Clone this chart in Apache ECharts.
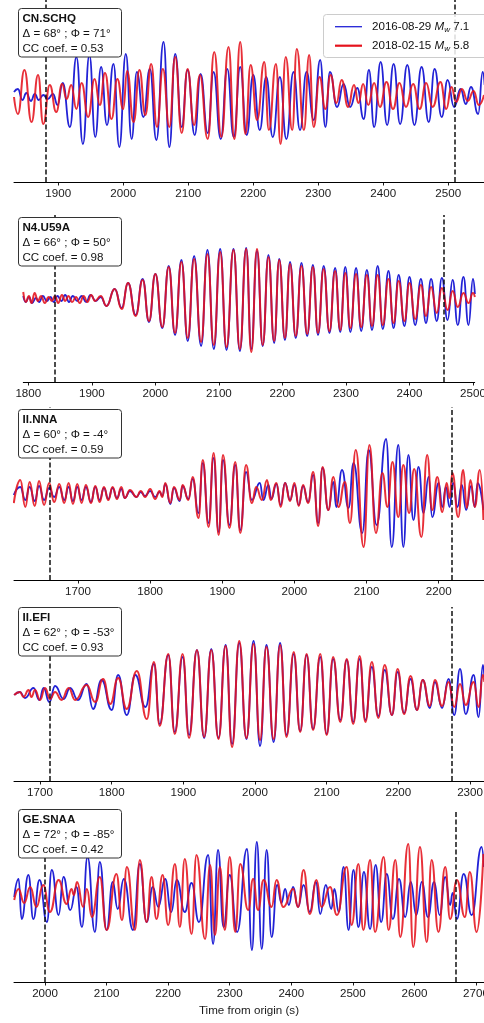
<!DOCTYPE html>
<html>
<head>
<meta charset="utf-8">
<script src="https://cdn.jsdelivr.net/npm/echarts@6/dist/echarts.min.js"></script>
<style>
  html, body { margin: 0; padding: 0; background: #fff; }
  #chart { width: 484px; height: 1023px; }
</style>
</head>
<body>
<div id="chart"></div>
<script>
// Waveform extrema per station: [time from origin (s), amplitude]
const schqBlue = [[1832,5],[1838,8],[1845,-3],[1851,4],[1858,-4],[1864,3],[1870,-3],[1877,2],[1884,-2],[1892,3],[1899,-8],[1907,14],[1918,-30],[1928,40],[1938,-47],[1948,42],[1957,-40],[1966,30],[1975,-28],[1985,33],[1994,-50],[2004,43],[2013,-42],[2021,25],[2031,-20],[2041,28],[2051,-43],[2062,55],[2071,-50],[2080,43],[2090,-30],[2099,27],[2110,-38],[2119,23],[2130,-36],[2139,25],[2150,-42],[2160,28],[2170,-40],[2180,30],[2190,-38],[2200,22],[2210,-33],[2220,20],[2230,-40],[2241,20],[2251,-42],[2262,25],[2272,-33],[2282,25],[2293,-23],[2303,37],[2311,-30],[2318,25],[2329,-10],[2339,13],[2349,-10],[2360,9],[2370,-22],[2378,27],[2386,-30],[2396,35],[2406,-28],[2416,33],[2426,-27],[2437,32],[2448,-28],[2459,30],[2470,-25],[2479,28],[2490,-20],[2499,17],[2509,-10],[2519,8],[2527,-7],[2535,10],[2546,-17],[2553,25],[2556,12]];
const schqRed = [[1832,0],[1838,-17],[1848,27],[1859,-25],[1869,22],[1877,-27],[1887,12],[1897,-15],[1906,13],[1913,-2],[1920,12],[1928,-12],[1936,14],[1946,-20],[1956,18],[1964,-8],[1972,24],[1982,-22],[1991,18],[2000,-12],[2006,26],[2016,-25],[2025,27],[2034,-18],[2043,33],[2052,-30],[2061,28],[2071,-30],[2080,40],[2090,-36],[2099,28],[2109,-28],[2118,22],[2130,-42],[2140,45],[2151,-40],[2162,50],[2171,-42],[2180,55],[2188,-37],[2196,32],[2206,-23],[2217,35],[2224,-33],[2235,33],[2242,-47],[2250,40],[2260,-33],[2267,48],[2278,-33],[2286,42],[2293,-30],[2302,20],[2311,-12],[2319,22],[2328,-6],[2336,17],[2346,-10],[2355,12],[2362,-6],[2369,13],[2377,-8],[2386,14],[2395,-10],[2405,15],[2415,-12],[2425,14],[2435,-10],[2446,13],[2456,-12],[2466,14],[2476,-10],[2488,15],[2497,-12],[2505,10],[2512,-5],[2521,8],[2530,-4],[2539,6],[2547,-8],[2555,2]];

const u59aBlue = [[1792,3],[1796,-3],[1801,2],[1806,-4],[1812,1],[1817,-3],[1823,3],[1829,-2],[1835,2],[1840,-3],[1846,3],[1852,-2],[1858,4],[1864,-3],[1870,3],[1877,-2],[1884,3],[1891,-3],[1898,4],[1906,-2],[1914,2],[1923,-7],[1936,10],[1947,-9],[1957,16],[1969,-16],[1980,20],[1990,-23],[2000,25],[2011,-29],[2021,33],[2031,-36],[2041,39],[2051,-42],[2061,43],[2072,-47],[2082,49],[2092,-50],[2102,50],[2112,-51],[2123,50],[2133,-52],[2143,51],[2151,-50],[2160,48],[2169,-47],[2178,44],[2187,-44],[2195,40],[2204,-41],[2212,37],[2221,-39],[2230,36],[2239,-37],[2248,34],[2256,-36],[2265,33],[2274,-34],[2283,31],[2291,-33],[2299,32],[2307,-33],[2316,31],[2324,-32],[2333,29],[2341,-31],[2350,33],[2358,-30],[2367,28],[2375,-29],[2383,24],[2392,-27],[2400,22],[2409,-26],[2418,20],[2426,-24],[2434,20],[2443,-22],[2451,21],[2460,-21],[2468,19],[2476,-26],[2485,22],[2493,-26],[2500,20],[2503,5]];
const u59aRed = [[1792,7],[1796,-3],[1801,3],[1805,-4],[1810,6],[1815,-2],[1820,3],[1826,-4],[1832,2],[1837,-2],[1842,3],[1847,-4],[1853,4],[1858,-2],[1863,3],[1869,-3],[1875,2],[1881,-4],[1887,3],[1893,-3],[1899,4],[1905,-2],[1914,3],[1923,-7],[1936,10],[1947,-10],[1957,16],[1969,-17],[1980,19],[1990,-22],[2000,25],[2011,-28],[2021,32],[2031,-34],[2041,37],[2051,-39],[2061,40],[2072,-43],[2082,45],[2092,-46],[2102,47],[2112,-48],[2123,49],[2133,-50],[2143,50],[2151,-53],[2160,50],[2169,-46],[2178,42],[2187,-42],[2195,39],[2204,-39],[2212,35],[2221,-37],[2230,33],[2239,-35],[2248,32],[2256,-34],[2265,30],[2274,-32],[2283,28],[2291,-31],[2299,26],[2307,-29],[2316,25],[2324,-28],[2333,24],[2341,-27],[2350,24],[2358,-26],[2367,20],[2375,-24],[2383,18],[2392,-22],[2400,16],[2409,-20],[2418,14],[2426,-17],[2434,12],[2443,-14],[2451,11],[2460,-11],[2468,8],[2476,-8],[2485,6],[2493,-4],[2500,6],[2503,2]];

const nnaBlue = [[1611,0],[1620,8],[1627,-5],[1633,8],[1640,-6],[1646,9],[1653,-5],[1660,7],[1667,-2],[1674,8],[1681,-5],[1687,8],[1693,-6],[1699,8],[1705,-5],[1711,8],[1718,-7],[1724,8],[1730,-5],[1736,7],[1742,-4],[1748,7],[1754,-3],[1760,6],[1765,-3],[1772,4],[1781,-2],[1787,3],[1793,-1],[1800,4],[1807,-2],[1813,3],[1817,-1],[1821,11],[1828,-9],[1833,7],[1841,-6],[1845,9],[1853,-4],[1859,16],[1867,-18],[1873,32],[1881,-28],[1888,37],[1895,-37],[1901,35],[1910,-30],[1918,30],[1925,-35],[1933,23],[1941,-5],[1952,12],[1957,-5],[1964,10],[1968,-4],[1975,11],[1981,-10],[1987,12],[1994,-5],[2000,10],[2006,-10],[2012,9],[2019,-7],[2026,20],[2033,-28],[2039,27],[2047,-15],[2054,13],[2058,-12],[2066,25],[2075,-13],[2082,32],[2094,-38],[2103,45],[2114,-30],[2127,56],[2135,-52],[2144,50],[2151,-52],[2158,40],[2165,-25],[2172,28],[2179,-18],[2186,18],[2191,-22],[2200,12],[2205,-12],[2210,8],[2215,-12],[2220,12],[2226,-12],[2232,10],[2238,-15],[2245,9],[2250,-12],[2254,12],[2262,-15]];
const nnaRed = [[1611,-8],[1620,15],[1627,-12],[1633,13],[1640,-11],[1646,14],[1653,-10],[1660,12],[1667,-7],[1674,11],[1681,-8],[1687,12],[1693,-9],[1699,11],[1705,-8],[1711,10],[1718,-8],[1724,9],[1730,-7],[1736,8],[1742,-5],[1748,8],[1754,-4],[1760,8],[1765,-3],[1772,5],[1781,-2],[1787,4],[1793,-2],[1800,6],[1807,-4],[1813,4],[1817,-2],[1821,12],[1828,-8],[1833,8],[1841,-5],[1845,10],[1853,-5],[1859,18],[1867,-23],[1873,35],[1881,-32],[1888,42],[1895,-40],[1901,40],[1910,-33],[1918,33],[1925,-38],[1933,30],[1941,-8],[1947,8],[1955,-5],[1962,15],[1967,-5],[1975,12],[1981,-12],[1987,12],[1994,-6],[2000,12],[2006,-11],[2012,10],[2019,-8],[2026,23],[2033,-31],[2039,28],[2047,-15],[2054,18],[2061,-12],[2070,13],[2077,-28],[2085,45],[2096,-52],[2104,50],[2113,-38],[2122,22],[2129,-12],[2136,33],[2144,-22],[2151,30],[2159,-18],[2166,26],[2176,-42],[2184,40],[2191,-15],[2198,18],[2205,-17],[2211,12],[2215,-3],[2219,22],[2227,-22],[2234,25],[2239,-13],[2244,15],[2250,-12],[2257,25],[2262,-25]];

const efiBlue = [[1664,2],[1672,5],[1679,-1],[1691,9],[1699,-3],[1705,9],[1713,-5],[1721,11],[1733,-2],[1742,9],[1753,-3],[1765,13],[1774,-12],[1786,17],[1800,-13],[1809,22],[1821,-18],[1833,22],[1847,-10],[1859,33],[1867,-27],[1879,42],[1888,-35],[1899,40],[1908,-38],[1919,47],[1929,-41],[1939,48],[1949,-41],[1959,52],[1968,-47],[1978,54],[1988,-42],[1998,56],[2007,-49],[2016,52],[2026,-45],[2035,54],[2044,-38],[2054,43],[2063,-34],[2072,42],[2081,-32],[2091,40],[2100,-37],[2109,38],[2119,-23],[2128,37],[2137,-25],[2146,38],[2154,-23],[2163,30],[2172,-19],[2181,27],[2191,-18],[2199,25],[2208,-16],[2217,18],[2226,-13],[2234,17],[2244,-11],[2251,15],[2261,-11],[2270,18],[2278,-18],[2286,28],[2294,-17],[2305,22],[2312,-20],[2318,32],[2320,20]];
const efiRed = [[1664,2],[1672,5],[1677,0],[1684,7],[1688,0],[1693,7],[1700,-3],[1707,9],[1714,-2],[1721,5],[1730,-3],[1740,9],[1749,-3],[1765,12],[1777,-5],[1788,18],[1798,-7],[1809,19],[1821,-12],[1835,26],[1849,-22],[1859,35],[1867,-29],[1879,43],[1888,-37],[1899,43],[1908,-41],[1919,47],[1929,-40],[1939,47],[1949,-42],[1959,51],[1968,-50],[1978,56],[1988,-41],[1998,53],[2007,-43],[2016,50],[2026,-42],[2035,52],[2044,-40],[2054,45],[2063,-35],[2072,43],[2081,-33],[2091,43],[2100,-38],[2109,40],[2119,-25],[2128,38],[2137,-27],[2146,41],[2154,-25],[2163,35],[2172,-21],[2181,32],[2191,-18],[2199,28],[2208,-17],[2217,21],[2226,-13],[2234,17],[2244,-9],[2251,17],[2261,-9],[2270,15],[2278,-10],[2286,13],[2294,-8],[2305,15],[2312,-10],[2318,22],[2320,15]];

const snaaBlue = [[1950,0],[1957,18],[1962,-22],[1973,22],[1981,-22],[1991,17],[2003,-25],[2011,27],[2022,-18],[2030,20],[2041,-13],[2051,10],[2060,-30],[2069,40],[2081,-35],[2089,35],[2100,-33],[2110,15],[2118,-12],[2128,18],[2143,-33],[2154,33],[2165,-25],[2175,10],[2184,-10],[2195,18],[2205,-15],[2214,17],[2227,-15],[2238,14],[2250,-25],[2265,42],[2273,-47],[2281,47],[2290,-30],[2300,22],[2312,-35],[2328,48],[2336,-53],[2344,55],[2352,-52],[2360,47],[2368,-40],[2377,12],[2384,-6],[2390,8],[2396,-8],[2403,10],[2411,-10],[2420,12],[2430,-15],[2440,15],[2447,-17],[2456,12],[2465,-12],[2470,8],[2477,-15],[2485,30],[2493,-33],[2501,27],[2509,-30],[2518,25],[2528,-32],[2537,32],[2546,-25],[2555,23],[2565,-22],[2575,18],[2585,-20],[2594,15],[2603,-18],[2612,15],[2622,-20],[2632,15],[2641,-18],[2650,20],[2658,-8],[2662,4],[2669,-22],[2680,23],[2693,-18],[2709,50],[2713,30]];
const snaaRed = [[1950,-3],[1957,8],[1966,-6],[1976,10],[1986,-10],[1997,12],[2008,-15],[2022,17],[2035,-7],[2043,8],[2047,2],[2052,15],[2062,-10],[2068,8],[2076,-20],[2089,20],[2100,-33],[2116,23],[2125,-23],[2133,30],[2146,-33],[2154,37],[2165,-25],[2173,20],[2181,-22],[2191,22],[2200,-28],[2211,33],[2219,-30],[2227,38],[2238,-37],[2246,42],[2260,-42],[2268,32],[2276,-38],[2284,30],[2292,-33],[2300,40],[2309,-35],[2317,33],[2330,-13],[2338,18],[2346,-13],[2355,17],[2368,-10],[2376,17],[2387,-10],[2403,8],[2411,-10],[2420,27],[2430,-17],[2441,17],[2449,-10],[2463,10],[2474,-18],[2490,30],[2498,-28],[2509,33],[2517,-33],[2528,37],[2536,-35],[2550,40],[2558,-33],[2569,37],[2577,-40],[2590,53],[2598,-50],[2609,50],[2620,-45],[2628,37],[2639,-35],[2650,30],[2658,-22],[2669,17],[2682,-20],[2690,25],[2701,-35],[2712,43]];

// Phase window markers (s)
const schqPicks = [1881, 2510];
const u59aPicks = [1842, 2454];
const nnaPicks = [1661, 2218];
const efiPicks = [1713, 2275];
const snaaPicks = [1999, 2667];

// Tick labels of each time axis
const schqTicks = [1900, 2000, 2100, 2200, 2300, 2400, 2500];
const u59aTicks = [1800, 1900, 2000, 2100, 2200, 2300, 2400, 2500];
const nnaTicks = [1700, 1800, 1900, 2000, 2100, 2200];
const efiTicks = [1700, 1800, 1900, 2000, 2100, 2200, 2300];
const snaaTicks = [2000, 2100, 2200, 2300, 2400, 2500, 2600, 2700];

// Station annotations
const stations = ['CN.SCHQ', 'N4.U59A', 'II.NNA', 'II.EFI', 'GE.SNAA'];
const distances = [68, 66, 60, 62, 72];
const azimuths = [71, 50, -4, -53, -85];
const ccCoefs = ['0.53', '0.98', '0.59', '0.93', '0.42'];

// Events
const eventDates = ['2016-08-29', '2018-02-15'];
const eventMw = ['7.1', '5.8'];

const BLUE = '#2222d6';
const RED = '#e5121c';
const FONT = '"Liberation Sans", Arial, Helvetica, sans-serif';
const FS = 11.6;

// Layout of the five stacked panels
const layout = [
  { left: 14, top: 0, width: 470, height: 182, x: [1832, 2555], y: [-85, 97], boxTop: 8 },
  { left: 23.3, top: 215, width: 451.4, height: 167, x: [1792.1, 2502.7], y: [-83, 84], boxTop: 217 },
  { left: 14, top: 407, width: 470, height: 173, x: [1611.3, 2262.8], y: [-85, 88], boxTop: 409 },
  { left: 14, top: 607, width: 470, height: 174, x: [1663.7, 2319.5], y: [-84, 90], boxTop: 607 },
  { left: 14, top: 810, width: 470, height: 172, x: [1949.6, 2713], y: [-85, 87], boxTop: 809 }
];

const blues = [schqBlue, u59aBlue, nnaBlue, efiBlue, snaaBlue];
const reds = [schqRed, u59aRed, nnaRed, efiRed, snaaRed];
const picks = [schqPicks, u59aPicks, nnaPicks, efiPicks, snaaPicks];
const ticks = [schqTicks, u59aTicks, nnaTicks, efiTicks, snaaTicks];

const grids = [], xAxes = [], yAxes = [], series = [], graphics = [];

layout.forEach((p, i) => {
  grids.push({ left: p.left, top: p.top, width: p.width, height: p.height, containLabel: false, outerBoundsMode: 'none' });
  const xa = {
    type: 'value', gridIndex: i, min: p.x[0], max: p.x[1],
    axisLine: { show: true, onZero: false, lineStyle: { color: '#000', width: 1 } },
    axisTick: { show: true, customValues: ticks[i], length: 3.5, lineStyle: { color: '#000', width: 0.9 } },
    axisLabel: {
      customValues: ticks[i], fontSize: FS, color: '#1a1a1a', margin: 6, fontFamily: FONT,
      formatter: v => String(v)
    },
    splitLine: { show: false }
  };
  if (i === layout.length - 1) {
    xa.name = 'Time from origin (s)';
    xa.nameLocation = 'middle';
    xa.nameGap = 23;
    xa.nameTextStyle = { fontSize: FS, color: '#1a1a1a', fontFamily: FONT };
  }
  xAxes.push(xa);
  yAxes.push({ type: 'value', gridIndex: i, min: p.y[0], max: p.y[1], show: false });

  series.push({
    name: eventDates[0], type: 'line', xAxisIndex: i, yAxisIndex: i,
    data: blues[i], showSymbol: false, smooth: 0.5, smoothMonotone: 'x',
    lineStyle: { color: BLUE, width: 1.8 }, z: 2, silent: true
  });
  series.push({
    name: eventDates[1], type: 'line', xAxisIndex: i, yAxisIndex: i,
    data: reds[i], showSymbol: false, smooth: 0.5, smoothMonotone: 'x',
    lineStyle: { color: RED, width: 2, opacity: 0.88 }, z: 3, silent: true,
    markLine: {
      silent: true, symbol: ['none', 'none'], animation: false, z: 5,
      label: { show: false },
      lineStyle: { color: '#111', type: [5, 2.5], width: 1.5, opacity: 1 },
      data: picks[i].map(v => ({ xAxis: v }))
    }
  });

  // Station info box
  const bt = p.boxTop;
  graphics.push({
    type: 'rect', z: 100,
    shape: { x: 18.5, y: bt + 0.5, width: 103, height: 48.5, r: 3 },
    style: { fill: '#fff', stroke: '#333', lineWidth: 1 }
  });
  const lines = [
    { t: stations[i], w: 'bold' },
    { t: 'Δ = ' + distances[i] + '° ; Φ = ' + azimuths[i] + '°', w: 'normal' },
    { t: 'CC coef. = ' + ccCoefs[i], w: 'normal' }
  ];
  lines.forEach((ln, k) => {
    graphics.push({
      type: 'text', z: 101, x: 22.5, y: bt + 11 + k * 15,
      style: { text: ln.t, fill: '#111', fontSize: FS, fontWeight: ln.w, fontFamily: FONT, verticalAlign: 'middle', align: 'left' }
    });
  });
});

// Legend in the top panel
graphics.push({
  type: 'rect', z: 100,
  shape: { x: 323.5, y: 14.5, width: 170, height: 43, r: 3 },
  style: { fill: 'rgba(255,255,255,0.85)', stroke: '#cccccc', lineWidth: 1 }
});
[BLUE, RED].forEach((c, k) => {
  const y = 26.7 + k * 19;
  graphics.push({
    type: 'line', z: 101,
    shape: { x1: 335, y1: y, x2: 362, y2: y },
    style: { stroke: c, lineWidth: k === 0 ? 1.3 : 2.2 }
  });
  graphics.push({
    type: 'text', z: 101, x: 372, y: y,
    style: {
      text: eventDates[k] + ' {i|M}{s|w} ' + eventMw[k],
      fill: '#111', fontSize: FS, fontFamily: FONT, verticalAlign: 'middle', align: 'left',
      rich: {
        i: { fontStyle: 'italic', fontSize: FS, fontFamily: FONT, fill: '#111' },
        s: { fontStyle: 'italic', fontSize: 8, fontFamily: FONT, fill: '#111', padding: [6, 0, 0, 0] }
      }
    }
  });
});

const chart = echarts.init(document.getElementById('chart'), null, { renderer: 'canvas' });
chart.setOption({
  animation: false,
  backgroundColor: '#fff',
  grid: grids,
  xAxis: xAxes,
  yAxis: yAxes,
  series: series,
  graphic: { elements: graphics }
});
</script>
</body>
</html>
